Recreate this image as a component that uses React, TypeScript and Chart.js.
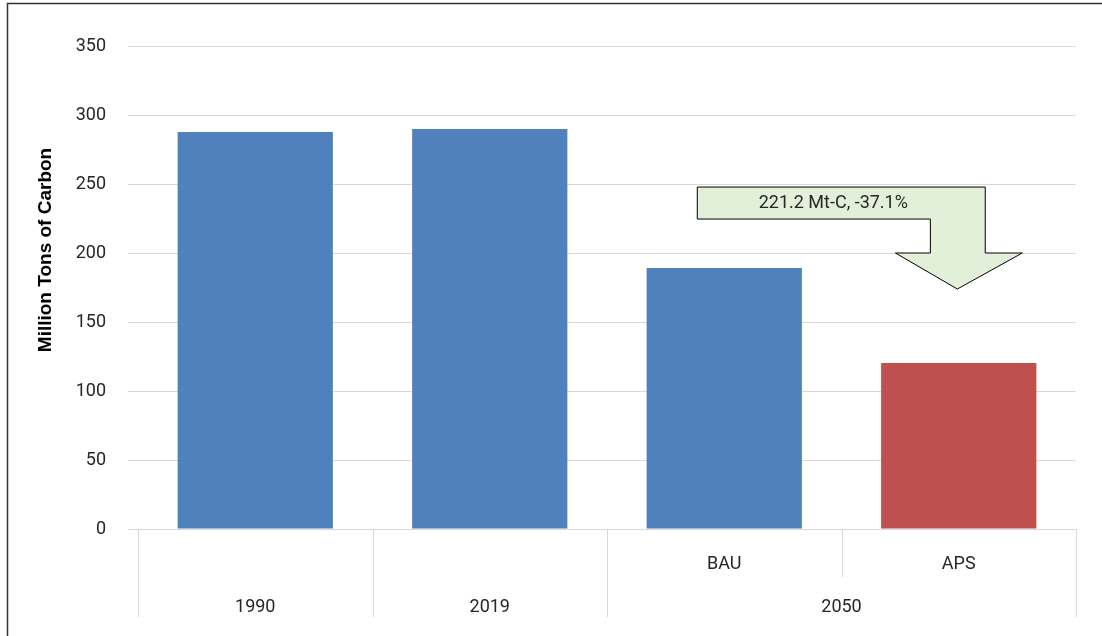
import React, { useEffect, useRef } from "react";
import { Chart, registerables } from "chart.js";

Chart.register(...registerables);

// ---- data ----
const categories = ["1990", "2019", "BAU", "APS"];
const subLabels = ["", "", "BAU", "APS"];
const groupLabels = ["1990", "2019", "2050"];
const groupSpans = [1, 1, 2];
const emissions = [287.7, 289.9, 189.1, 120.3];
const barColors = ["#4F81BD", "#4F81BD", "#4F81BD", "#C0504D"];
const yTicks = [0, 50, 100, 150, 200, 250, 300, 350];
const yTitle = "Million Tons of Carbon";
const annotationText = "221.2 Mt-C, -37.1%";

// annotation arrow outline, in (category index, value) units
const arrowIdx = [1.885, 3.113, 3.113, 3.271, 2.994, 2.73, 2.879, 2.879, 1.885];
const arrowVal = [247.8, 247.8, 200, 200, 173.9, 200, 200, 224.6, 224.6];
const labelIdx = 2.465;
const labelVal = 236.2;

const TEXT_FONT = "Roboto, 'Noto Sans', sans-serif";

const decorPlugin = {
  id: "decor",
  beforeDraw(chart: any) {
    const ctx = chart.ctx;
    ctx.save();
    ctx.fillStyle = "#ffffff";
    ctx.fillRect(0, 0, chart.width, chart.height);
    ctx.strokeStyle = "#333333";
    ctx.lineWidth = 1.5;
    ctx.strokeRect(7.5, 3.5, chart.width + 50, chart.height + 50);
    ctx.restore();
  },
  afterDraw(chart: any) {
    const ctx = chart.ctx;
    const x = chart.scales.x;
    const y = chart.scales.y;
    const area = chart.chartArea;
    const step = x.getPixelForValue(1) - x.getPixelForValue(0);
    const edge = (i: number) => x.getPixelForValue(0) - step / 2 + step * i;
    ctx.save();
    // axis line
    ctx.strokeStyle = "#d9d9d9";
    ctx.lineWidth = 1;
    ctx.beginPath();
    ctx.moveTo(area.left - 10, Math.round(area.bottom) + 0.5);
    ctx.lineTo(area.right, Math.round(area.bottom) + 0.5);
    ctx.stroke();
    // separators
    const groupEdges = new Set<number>([0]);
    let acc = 0;
    groupSpans.forEach((s) => {
      acc += s;
      groupEdges.add(acc);
    });
    for (let i = 0; i <= categories.length; i++) {
      const px = Math.round(edge(i)) + 0.5;
      const len = groupEdges.has(i) ? 88 : 48;
      ctx.beginPath();
      ctx.moveTo(px, area.bottom);
      ctx.lineTo(px, area.bottom + len);
      ctx.stroke();
    }
    // labels
    ctx.fillStyle = "#262626";
    ctx.font = `18px ${TEXT_FONT}`;
    ctx.textAlign = "center";
    ctx.textBaseline = "middle";
    subLabels.forEach((l, i) => {
      if (l) ctx.fillText(l, x.getPixelForValue(i), area.bottom + 35);
    });
    let start = 0;
    groupLabels.forEach((g, gi) => {
      const span = groupSpans[gi];
      const cx = (edge(start) + edge(start + span)) / 2;
      ctx.fillText(g, cx, area.bottom + 78);
      start += span;
    });
    // y title
    ctx.save();
    ctx.translate(46, 250);
    ctx.rotate(-Math.PI / 2);
    ctx.font = `bold 19px 'Liberation Sans', Arial, sans-serif`;
    ctx.fillStyle = "#000000";
    ctx.fillText(yTitle, 0, 0);
    ctx.restore();
    // annotation arrow
    const ix = (v: number) => x.getPixelForValue(0) + step * v;
    ctx.beginPath();
    arrowIdx.forEach((a, i) => {
      const px = ix(a);
      const py = y.getPixelForValue(arrowVal[i]);
      if (i === 0) ctx.moveTo(px, py);
      else ctx.lineTo(px, py);
    });
    ctx.closePath();
    ctx.fillStyle = "#E2EFD9";
    ctx.fill();
    ctx.strokeStyle = "#000000";
    ctx.lineWidth = 1;
    ctx.stroke();
    ctx.fillStyle = "#262626";
    ctx.font = `18px ${TEXT_FONT}`;
    ctx.fillText(annotationText, ix(labelIdx), y.getPixelForValue(labelVal));
    ctx.restore();
  },
};

export default function App() {
  const ref = useRef<HTMLCanvasElement | null>(null);
  useEffect(() => {
    if (!ref.current) return;
    const chart = new Chart(ref.current, {
      type: "bar",
      data: {
        labels: categories,
        datasets: [
          {
            data: emissions,
            backgroundColor: barColors,
            borderWidth: 0,
            categoryPercentage: 1,
            barPercentage: 0.662,
          },
        ],
      },
      options: {
        responsive: false,
        animation: false,
        devicePixelRatio: 1,
        layout: { padding: { left: 0, top: 46, right: 26, bottom: 107 } },
        plugins: { legend: { display: false }, tooltip: { enabled: false } },
        scales: {
          x: { display: false },
          y: {
            min: 0,
            max: 350,
            afterFit: (s: any) => {
              s.width = 138;
            },
            afterBuildTicks: (s: any) => {
              s.ticks = yTicks.map((v) => ({ value: v }));
            },
            border: { display: false },
            grid: { color: "#d9d9d9", lineWidth: 1, drawTicks: true, tickLength: 10 },
            ticks: {
              padding: 22,
              color: "#262626",
              font: { family: TEXT_FONT, size: 18 },
            },
          },
        },
      },
      plugins: [decorPlugin],
    });
    return () => chart.destroy();
  }, []);
  return (
    <div style={{ position: "fixed", left: 0, top: 0, width: 1102, height: 636 }}>
      <canvas ref={ref} width={1102} height={636} style={{ display: "block" }} />
    </div>
  );
}
